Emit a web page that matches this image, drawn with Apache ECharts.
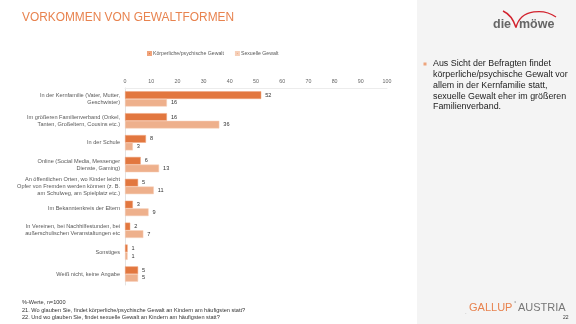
<!DOCTYPE html>
<html>
<head>
<meta charset="utf-8">
<script src="https://cdn.jsdelivr.net/npm/echarts@6/dist/echarts.min.js"></script>
<style>
  html, body { margin: 0; padding: 0; background: #fff; }
  #chart { width: 576px; height: 324px; }
</style>
</head>
<body>
<div id="chart"></div>
<script>
// Places where violence against children is thought to occur most often (% values)
const categories = [
  'In der Kernfamilie (Vater, Mutter,\nGeschwister)',
  'Im größeren Familienverband (Onkel,\nTanten, Großeltern, Cousins etc.)',
  'In der Schule',
  'Online (Social Media, Messenger\nDienste, Gaming)',
  'An öffentlichen Orten, wo Kinder leicht\nOpfer von Fremden werden können (z. B.\nam Schulweg, am Spielplatz etc.)',
  'Im Bekanntenkreis der Eltern',
  'In Vereinen, bei Nachhilfestunden, bei\naußerschulischen Veranstaltungen etc',
  'Sonstiges',
  'Weiß nicht, keine Angabe'
];
const physicalViolence = [52, 16, 8, 6, 5, 3, 2, 1, 5];
const sexualViolence = [16, 36, 3, 13, 11, 9, 7, 1, 5];
const seriesNames = ['Körperliche/psychische Gewalt', 'Sexuelle Gewalt'];
const axisTicks = [0, 10, 20, 30, 40, 50, 60, 70, 80, 90, 100];

const DARK = '#e2773f';
const LIGHT = '#eeb08c';
const FONT = '"Liberation Sans", Arial, sans-serif';

const chart = echarts.init(document.getElementById('chart'), null, { renderer: 'canvas' });

const valueLabel = {
  show: true,
  position: 'right',
  distance: 4,
  fontSize: 5.6,
  color: '#333',
  fontFamily: FONT
};

chart.setOption({
  animation: false,
  textStyle: { fontFamily: FONT },
  legend: {
    top: 46,
    left: 142,
    itemWidth: 3,
    itemHeight: 3,
    itemGap: 11,
    icon: 'rect',
    textStyle: { fontSize: 5.2, color: '#595959', padding: [0, 0, 0, -3] },
    data: seriesNames
  },
  grid: { left: 125, right: 189, top: 88, bottom: 39, containLabel: false },
  xAxis: {
    type: 'value',
    position: 'top',
    min: axisTicks[0],
    max: axisTicks[axisTicks.length - 1],
    interval: 10,
    axisLine: { show: true, lineStyle: { color: '#ececec', width: 1 } },
    axisTick: { show: false },
    splitLine: { show: false },
    axisLabel: { fontSize: 5.3, color: '#666', margin: 4 }
  },
  yAxis: {
    type: 'category',
    inverse: true,
    data: categories,
    axisLine: { show: true, lineStyle: { color: '#e3e3e3', width: 1 } },
    axisTick: { show: false },
    axisLabel: { fontSize: 5.6, color: '#595959', lineHeight: 7, margin: 5, align: 'right' }
  },
  series: [
    {
      name: seriesNames[0],
      type: 'bar',
      data: physicalViolence,
      barGap: '0%',
      barCategoryGap: '30%',
      itemStyle: { color: DARK, borderColor: '#f0a47c', borderWidth: 0.5 },
      label: valueLabel
    },
    {
      name: seriesNames[1],
      type: 'bar',
      data: sexualViolence,
      itemStyle: { color: LIGHT, borderColor: '#f6cfb8', borderWidth: 0.5 },
      label: valueLabel
    }
  ],
  graphic: [
    // side panel
    { type: 'rect', z: -10, shape: { x: 417, y: 0, width: 159, height: 324 }, style: { fill: '#f4f4f4' } },
    // slide title
    { type: 'text', x: 22, y: 11.5, style: { text: 'VORKOMMEN VON GEWALTFORMEN', fontSize: 11.9, fill: '#e8834f', fontFamily: FONT } },
    // "die möwe" logo
    { type: 'text', x: 493, y: 18.5, style: { text: 'die', fontSize: 12.5, fontWeight: 'bold', fill: '#666', fontFamily: FONT } },
    { type: 'text', x: 519, y: 18.5, style: { text: 'möwe', fontSize: 12.5, fontWeight: 'bold', fill: '#666', fontFamily: FONT } },
    { type: 'bezierCurve', shape: { x1: 503, y1: 11, cpx1: 512, cpy1: 15, x2: 516, y2: 27.5 }, style: { stroke: '#d2232e', lineWidth: 1.5, fill: null } },
    { type: 'bezierCurve', shape: { x1: 516, y1: 27.5, cpx1: 521, cpy1: 8, cpx2: 545, cpy2: 9, x2: 556, y2: 17 }, style: { stroke: '#d2232e', lineWidth: 1.3, fill: null } },
    // summary bullet
    { type: 'rect', shape: { x: 423.5, y: 62.5, width: 3, height: 3 }, style: { fill: '#eea57c' } },
    { type: 'text', x: 433, y: 58.7, style: {
        text: 'Aus Sicht der Befragten findet\nkörperliche/psychische Gewalt vor\nallem in der Kernfamilie statt,\nsexuelle Gewalt eher im größeren\nFamilienverband.',
        fontSize: 8.9, lineHeight: 10.7, fill: '#222', fontFamily: FONT } },
    // footnotes
    { type: 'text', x: 22, y: 299.5, style: {
        text: '%-Werte, n=1000', fontSize: 5.6, fill: '#333', fontFamily: FONT } },
    { type: 'text', x: 22, y: 306.5, style: {
        text: '21. Wo glauben Sie, findet körperliche/psychische Gewalt an Kindern am häufigsten statt?\n22. Und wo glauben Sie, findet sexuelle Gewalt an Kindern am häufigsten statt?',
        fontSize: 5.6, lineHeight: 7, fill: '#333', fontFamily: FONT } },
    // Gallup logo
    { type: 'text', x: 465, y: 309, style: { text: '.', fontSize: 6, fill: '#999', fontFamily: FONT } },
    { type: 'text', x: 469, y: 302, style: { text: 'GALLUP', fontSize: 11, fill: '#e8834f', fontFamily: FONT } },
    { type: 'text', x: 514, y: 300, style: { text: '°', fontSize: 6, fill: '#888', fontFamily: FONT } },
    { type: 'text', x: 518, y: 302, style: { text: 'AUSTRIA', fontSize: 11, fill: '#777', fontFamily: FONT } },
    { type: 'text', x: 563, y: 315.5, style: { text: '22', fontSize: 5, fill: '#333', fontFamily: FONT } }
  ]
});
</script>
</body>
</html>
